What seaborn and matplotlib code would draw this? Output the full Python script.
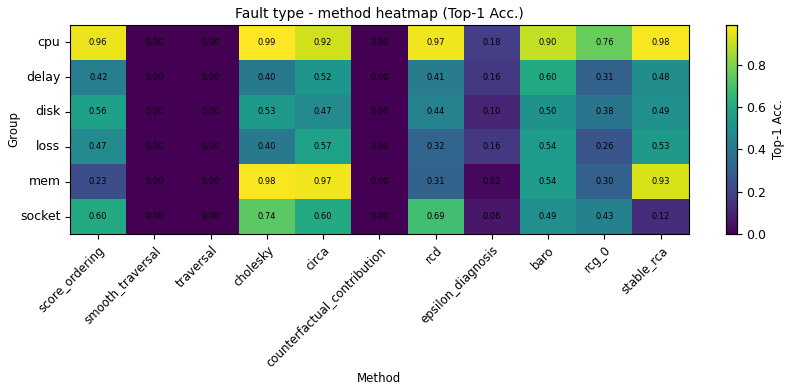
import numpy as np
import pandas as pd
import matplotlib
matplotlib.use("Agg")
import matplotlib.pyplot as plt
import seaborn as sns

groups = ["cpu", "delay", "disk", "loss", "mem", "socket"]
methods = ["score_ordering", "smooth_traversal", "traversal", "cholesky", "circa",
           "counterfactual_contribution", "rcd", "epsilon_diagnosis", "baro", "rcg_0",
           "stable_rca"]

acc_cpu = [0.96, 0.00, 0.00, 0.99, 0.92, 0.00, 0.97, 0.18, 0.90, 0.76, 0.98]
acc_delay = [0.42, 0.00, 0.00, 0.40, 0.52, 0.00, 0.41, 0.16, 0.60, 0.31, 0.48]
acc_disk = [0.56, 0.00, 0.00, 0.53, 0.47, 0.00, 0.44, 0.10, 0.50, 0.38, 0.49]
acc_loss = [0.47, 0.00, 0.00, 0.40, 0.57, 0.00, 0.32, 0.16, 0.54, 0.26, 0.53]
acc_mem = [0.23, 0.00, 0.00, 0.98, 0.97, 0.00, 0.31, 0.02, 0.54, 0.30, 0.93]
acc_socket = [0.60, 0.00, 0.00, 0.74, 0.60, 0.00, 0.69, 0.06, 0.49, 0.43, 0.12]

df = pd.DataFrame([acc_cpu, acc_delay, acc_disk, acc_loss, acc_mem, acc_socket],
                  index=groups, columns=methods)

fig = plt.figure(figsize=(7.88, 3.88), dpi=100)
ax = fig.add_axes([0.089, 0.397, 0.785, 0.539])
cax = fig.add_axes([0.921, 0.397, 0.014, 0.539])

sns.heatmap(df, ax=ax, cbar_ax=cax, cmap="viridis", vmin=0, vmax=df.values.max(),
            annot=True, fmt=".2f", annot_kws={"fontsize": 6, "color": "black"},
            cbar_kws={"label": "Top-1 Acc."})

for s in ax.spines.values():
    s.set_visible(True)
    s.set_linewidth(0.8)
ax.tick_params(axis="both", length=3.5, width=0.8, labelsize=9)
ax.tick_params(axis="x", labelsize=8.5)
ax.set_xticklabels(methods, rotation=45, ha="right", rotation_mode="anchor")
ax.set_yticklabels(groups, rotation=0)
ax.set_title("Fault type - method heatmap (Top-1 Acc.)", fontsize=10, pad=5)
ax.set_xlabel("Method", fontsize=8.5, labelpad=2)
ax.set_ylabel("Group", fontsize=8.5, labelpad=0)

cax.tick_params(labelsize=9, length=3.5)
cax.yaxis.label.set_size(8.5)
cax.set_yticks([0.0, 0.2, 0.4, 0.6, 0.8])
for s in cax.spines.values():
    s.set_visible(True)
    s.set_linewidth(0.8)

fig.savefig("out.png", dpi=100)
